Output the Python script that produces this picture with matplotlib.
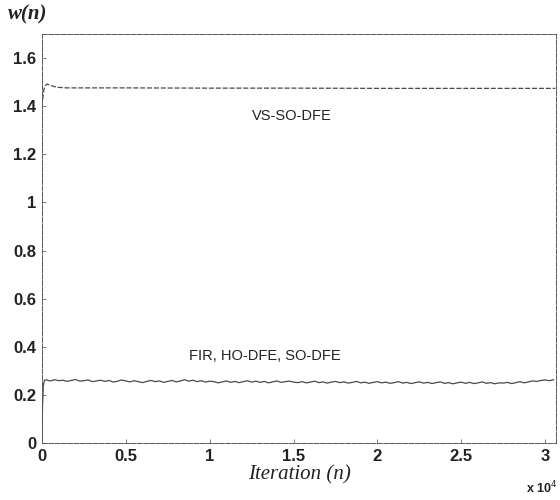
import matplotlib
matplotlib.use('Agg')
import matplotlib.pyplot as plt
import numpy as np

# VS-SO-DFE weight trajectory
iters_vs = [0, 60, 120, 200, 300, 450, 700, 1000, 1500, 2500, 5000,
            10000, 15000, 20000, 25000, 30600]
w_vs = [1.40, 1.44, 1.47, 1.485, 1.492, 1.488, 1.482, 1.478, 1.476, 1.476,
        1.476, 1.475, 1.475, 1.474, 1.474, 1.474]

# FIR / HO-DFE / SO-DFE weight trajectory
iters_fir_start = [0, 30, 80, 150]
w_fir_start = [0.0, 0.15, 0.24, 0.262]
step_fir = 250
w_fir = [
    0.262, 0.258, 0.263, 0.259, 0.261, 0.256, 0.260, 0.264, 0.257, 0.259,
    0.262, 0.255, 0.258, 0.261, 0.256, 0.260, 0.253, 0.257, 0.262, 0.258,
    0.254, 0.259, 0.255, 0.251, 0.256, 0.260, 0.255, 0.258, 0.252, 0.256,
    0.260, 0.254, 0.258, 0.263, 0.257, 0.261, 0.255, 0.259, 0.253, 0.257,
    0.255, 0.250, 0.254, 0.258, 0.252, 0.256, 0.251, 0.255, 0.259, 0.253,
    0.257, 0.252, 0.256, 0.250, 0.254, 0.258, 0.252, 0.255, 0.257, 0.253,
    0.251, 0.255, 0.250, 0.253, 0.257, 0.251, 0.254, 0.249, 0.253, 0.256,
    0.251, 0.254, 0.249, 0.252, 0.256, 0.250, 0.253, 0.248, 0.252, 0.255,
    0.250, 0.253, 0.248, 0.251, 0.255, 0.249, 0.252, 0.247, 0.251, 0.254,
    0.249, 0.252, 0.247, 0.251, 0.254, 0.248, 0.251, 0.246, 0.250, 0.253,
    0.248, 0.252, 0.247, 0.250, 0.254, 0.248, 0.251, 0.246, 0.250, 0.249,
    0.252, 0.247, 0.251, 0.255, 0.250, 0.254, 0.258, 0.256, 0.260, 0.262,
    0.259, 0.263,
]

xticks = [0, 5000, 10000, 15000, 20000, 25000, 30000]
xticklabels = ['0', '0.5', '1', '1.5', '2', '2.5', '3']
yticks = [0, 0.2, 0.4, 0.6, 0.8, 1.0, 1.2, 1.4, 1.6]
yticklabels = ['0', '0.2', '0.4', '0.6', '0.8', '1', '1.2', '1.4', '1.6']

x_fir = iters_fir_start + [step_fir * (i + 1) for i in range(len(w_fir))]
y_fir = w_fir_start + w_fir

fig = plt.figure(figsize=(5.6, 5.0), dpi=100)
ax = fig.add_axes([0.075, 0.114, 0.918, 0.818])

ax.plot(iters_vs, w_vs, color='#4a4a4a', lw=0.9, ls=(0, (4, 1.5)))
ax.plot(x_fir, y_fir, color='#4a4a4a', lw=0.9)

ax.set_xlim(0, 30650)
ax.set_ylim(0, 1.7)
ax.set_xticks(xticks)
ax.set_xticklabels(xticklabels)
ax.set_yticks(yticks)
ax.set_yticklabels(yticklabels)
ax.tick_params(direction='in', length=3, width=0.6, color='#666666',
               labelsize=12, pad=4)
for lab in ax.get_xticklabels() + ax.get_yticklabels():
    lab.set_fontfamily('Liberation Sans')
    lab.set_fontweight('bold')
    lab.set_color('#222222')
for s in ax.spines.values():
    s.set_linewidth(0.7)
    s.set_color('#555555')
    s.set_linestyle((0, (5, 1.5)))

ax.text(14900, 1.36, 'VS-SO-DFE', ha='center', va='center',
        fontsize=10.5, family='Liberation Sans', color='#222222')
ax.text(13300, 0.36, 'FIR, HO-DFE, SO-DFE', ha='center', va='center',
        fontsize=10.5, family='Liberation Sans', color='#222222')

fig.text(0.014, 0.972, 'w(n)', ha='left', va='center', fontsize=15,
         family='Liberation Serif', style='italic', weight='bold',
         color='#222222')
fig.text(0.535, 0.05, 'Iteration (n)', ha='center', va='center',
         fontsize=15, family='Liberation Serif', style='italic',
         color='#222222')
fig.text(0.94, 0.024, r'x 10$^{4}$', ha='left', va='center', fontsize=9,
         family='Liberation Sans', weight='bold', color='#222222')

fig.savefig('out.png', dpi=100)
